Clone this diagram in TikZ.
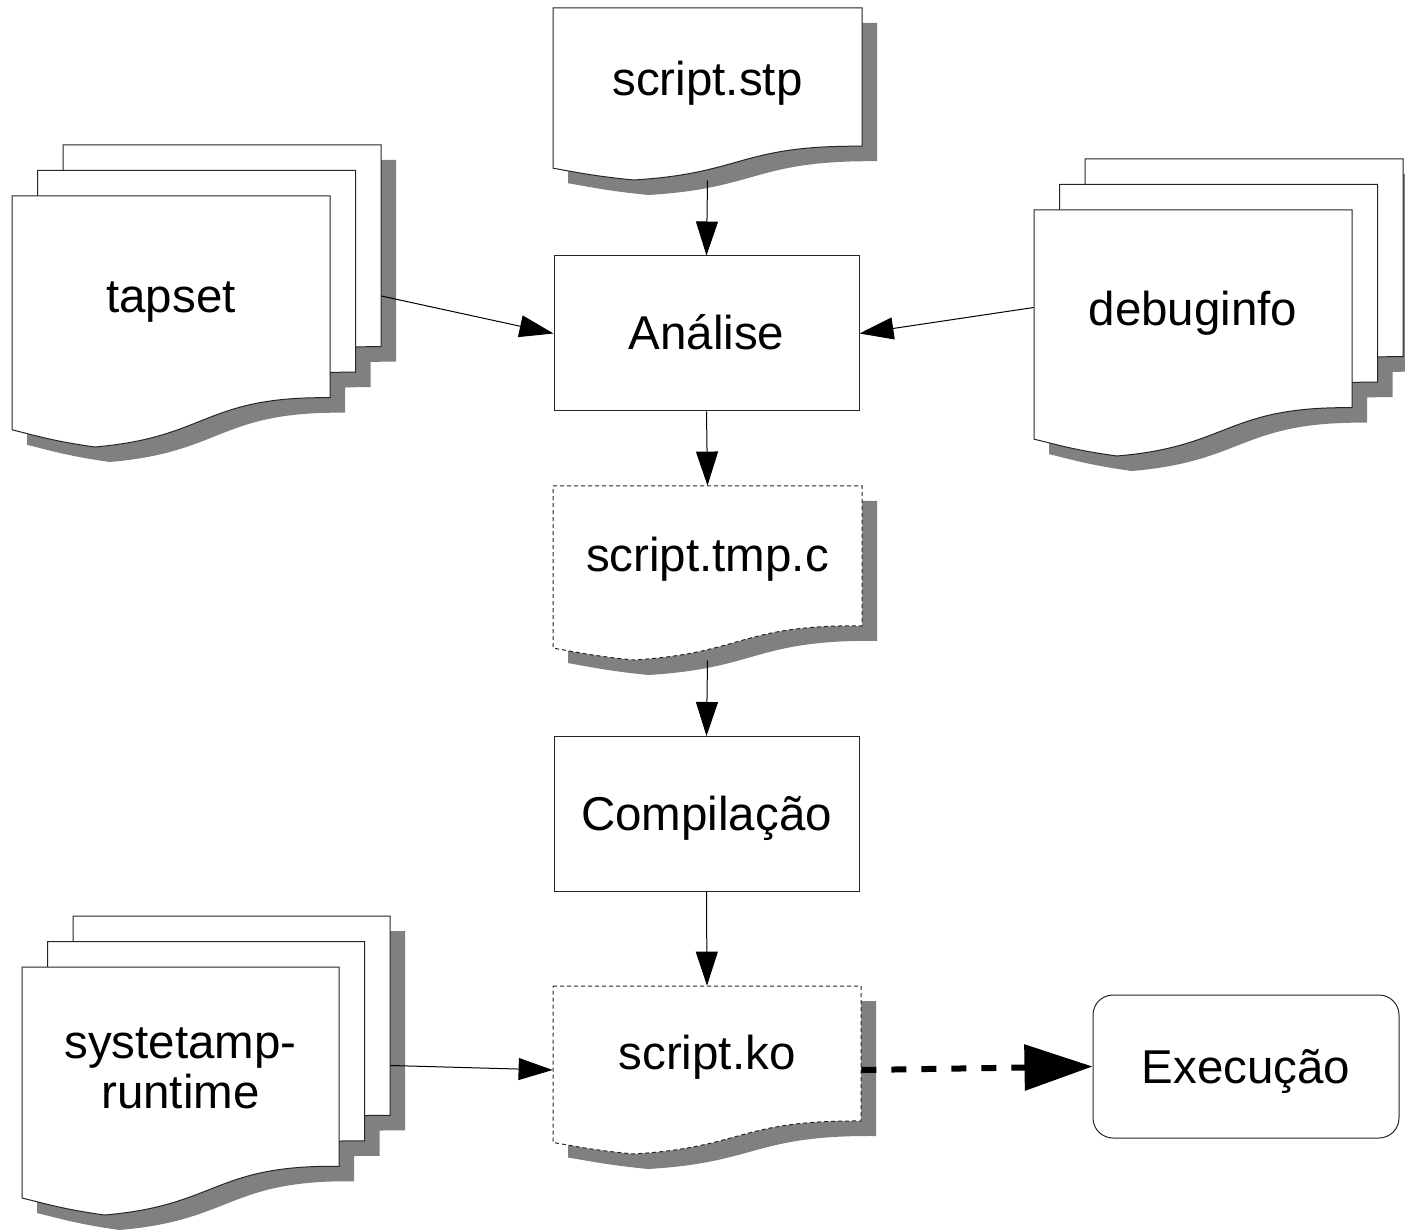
\documentclass[tikz,border=0pt]{standalone}
\usepackage{fontspec}
\setmainfont{Liberation Sans}
\usetikzlibrary{arrows.meta,fit}

% document sheet with wavy bottom: x y (top left), w h
\newcommand{\docpath}[4]{(#1,#2) -- (#1+#3,#2) -- (#1+#3,#2+0.8037*#4)
  .. controls (#1+0.6042*#3,#2+0.7972*#4) and (#1+0.6176*#3,#2+0.9616*#4) .. (#1+0.2602*#3,#2+#4)
  .. controls (#1+0.1324*#3,#2+0.9769*#4) and (#1+0.0856*#3,#2+0.9583*#4) .. (#1,#2+0.9315*#4) -- cycle}
\newcommand{\docsheet}[5][]{%
  \fill[docshadow, shift={(15,15)}] \docpath{#2}{#3}{#4}{#5};
  \draw[sheet, #1] \docpath{#2}{#3}{#4}{#5};}
% stack of three sheets, front sheet given
\newcommand{\docstack}[4]{%
  \foreach \k in {2,1,0} \fill[docshadow, shift={(15+25.5*\k,15-25.5*\k)}] \docpath{#1}{#2}{#3}{#4};
  \foreach \k in {2,1,0} \draw[sheet, shift={(25.5*\k,-25.5*\k)}] \docpath{#1}{#2}{#3}{#4};}

\begin{document}
\begin{tikzpicture}[x=0.5pt, y=-0.5pt,
  font=\fontsize{23.75pt}{25pt}\selectfont,
  sheet/.style={draw=black!85, line width=0.5pt, fill=white},
  sheetdash/.style={dash pattern=on 2pt off 1.5pt},
  docshadow/.style={fill=black!50},
  docframe/.style={inner sep=0pt, draw=none},
  txt/.style={anchor=base, inner sep=0pt},
  procbox/.style={draw=black!85, line width=0.5pt, fill=white, inner sep=0pt,
    minimum width=152.5pt, minimum height=77.5pt, text height=21.5pt, text depth=5pt},
  flow/.style={line width=0.5pt, -{Triangle[length=17pt, width=11pt]}},
  runflow/.style={line width=3pt, dash pattern=on 7.5pt off 7.5pt, -{Triangle[length=34pt, width=22.5pt]}}]
\useasboundingbox (0,0) rectangle (1405,1230);

% ---------- frames of the sheets ----------
\node[docframe, fit={(553,8) (862,180)}] (stp) {};
\node[docframe, fit={(553,486) (862,660)}] (tmpc) {};
\node[docframe, fit={(553,986) (861,1154)}] (ko) {};
\node[docframe, fit={(12,145) (381,447)}] (tapset) {};
\node[docframe, fit={(1034,159) (1403,456)}] (debuginfo) {};
\node[docframe, fit={(22,916) (390,1215)}] (runtime) {};

% ---------- sheets ----------
\docsheet{553}{8}{309}{172}
\docsheet[sheetdash]{553}{486}{309}{174}
\docsheet[sheetdash]{553}{986}{308}{168}
\docstack{12}{196}{318}{251}
\docstack{1034}{210}{318}{246}
\docstack{22}{967}{317}{248}

\node[txt] (stp-txt) at (707.5,96) {script.stp};
\node[txt] (tmpc-txt) at (707.5,572) {script.tmp.c};
\node[txt] (ko-txt) at (707,1069) {script.ko};
\node[txt] (tapset-txt) at (171,313) {tapset};
\node[txt] (debuginfo-txt) at (1193,326) {debuginfo};
\node[txt, align=center] (runtime-txt) at (180.5,1108) {systetamp-\\runtime};

% ---------- steps ----------
\node[procbox] (ana) at (706.5,333.5) {Análise};
\node[procbox] (comp) at (706.5,814) {Compilação};
\node[procbox, rounded corners=10pt, minimum width=153pt, minimum height=71.5pt] (exec) at (1246,1066.5) {Execução};

% ---------- connectors ----------
\draw[flow] (stp.south) -- (ana.north);
\draw[flow] (tapset.east) -- (ana.west);
\draw[flow] (debuginfo.west) -- (ana.east);
\draw[flow] (ana.south) -- (tmpc.north);
\draw[flow] (tmpc.south) -- (comp.north);
\draw[flow] (comp.south) -- (ko.north);
\draw[flow] (runtime.east) -- (ko.west);
\draw[runflow] (ko.east) -- (exec.west);
\end{tikzpicture}
\end{document}
